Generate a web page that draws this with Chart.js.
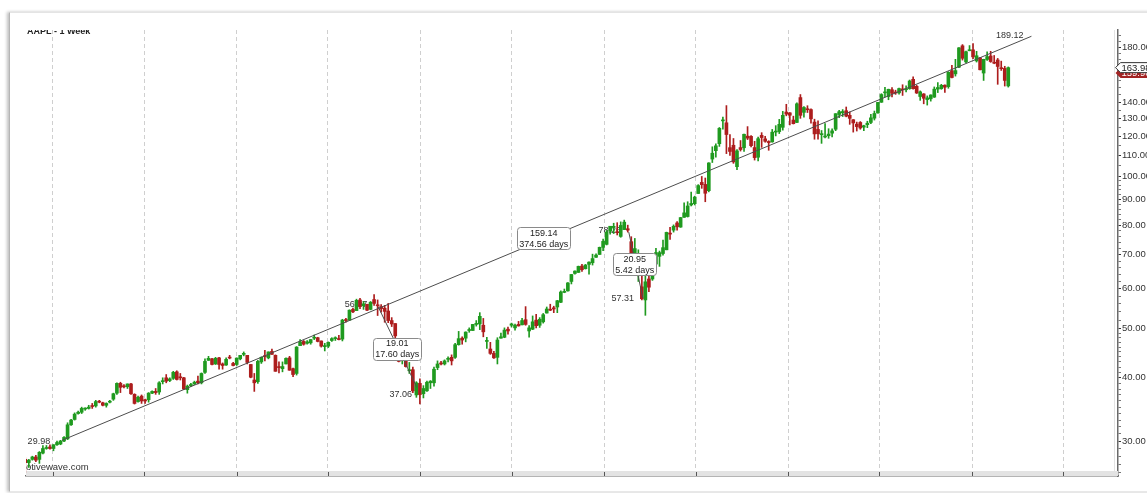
<!DOCTYPE html>
<html>
<head>
<meta charset="utf-8">
<script src="https://cdn.jsdelivr.net/npm/chart.js@4.4.0/dist/chart.umd.min.js"></script>
<style>
  html, body { margin: 0; padding: 0; background: #fff; }
  body { width: 1147px; height: 493px; position: relative; overflow: hidden; }
  #card {
    position: absolute; left: 9px; top: 12px; width: 1150px; height: 478px;
    background: #fff; border-top: 1px solid #e4e4e4; border-bottom: 1px solid #e8e8e8;
    border-left: 1px solid #b5b5b5; box-shadow: -2px 0 3px rgba(0, 0, 0, 0.25);
  }
  #wrap { position: absolute; left: 0; top: 0; width: 1147px; height: 493px; }
</style>
</head>
<body>
<div id="card"></div>
<div id="wrap"><canvas id="chart"></canvas></div>
<script>
// AAPL weekly candles, first week starting 2016-11-07, one row per calendar year
const firstWeek = "2016-11-07";

const opens = [
  27.6, 27.2, 27.6, 27.9, 27.6, 28.4, 29.0, 29.2,
  29.0, 29.5, 29.6, 30.0, 30.3, 32.3, 33.1, 34.0, 34.2, 34.7, 34.8, 35.2, 35.2, 35.9, 35.7, 35.3, 35.8, 36.3, 37.3, 39.0, 38.5, 38.4, 38.9, 37.1, 35.9, 36.8, 36.2, 36.2, 37.3, 37.6, 37.5, 39.3, 40.0, 39.5, 39.9, 41.1, 40.1, 40.0, 37.9, 38.6, 38.9, 39.4, 39.1, 41.0, 43.3, 43.6, 42.6, 43.8, 42.6, 42.4, 43.8, 42.7,
  42.5, 43.6, 44.5, 44.3, 42.5, 39.6, 39.3, 43.0, 44.1, 43.8, 45.1, 44.3, 42.0, 41.7, 42.6, 43.8, 41.7, 40.8, 46.3, 47.2, 46.8, 46.9, 47.9, 48.0, 47.3, 46.1, 46.2, 47.4, 47.8, 47.7, 47.7, 52.0, 52.0, 54.6, 54.3, 57.0, 55.5, 55.9, 54.6, 57.1, 55.6, 55.3, 54.9, 54.2, 51.9, 51.2, 47.5, 43.6, 46.1, 41.3, 41.5, 37.0,
  39.0, 37.2, 37.7, 39.1, 39.1, 41.9, 42.8, 42.6, 43.5, 43.9, 43.9, 46.5, 47.9, 47.9, 49.6, 49.6, 51.0, 51.1, 50.8, 47.2, 45.6, 44.7, 43.9, 47.9, 48.1, 49.9, 50.8, 50.2, 51.0, 50.9, 52.1, 49.5, 49.9, 52.0, 50.8, 51.6, 53.7, 54.6, 55.0, 55.2, 56.4, 59.0, 59.4, 62.0, 64.3, 64.6, 66.5, 65.7, 67.0, 67.5, 69.2, 70.1,
  72.4, 73.4, 77.9, 79.3, 77.5, 76.1, 78.5, 78.8, 74.3, 70.6, 65.9, 60.5, 57.0, 62.7, 62.7, 67.1, 69.5, 70.4, 71.6, 77.0, 78.3, 80.9, 79.4, 83.0, 83.3, 87.8, 88.3, 92.5, 97.3, 96.4, 93.7, 108.2, 112.4, 116.0, 128.7, 127.6, 113.95, 115.2, 104.5, 114.0, 113.9, 120.1, 119.96, 114.0, 109.1, 120.5, 118.6, 117.2, 116.97, 122.3, 122.6, 125.0, 133.99,
  133.5, 129.2, 127.8, 143.1, 133.8, 136.0, 135.5, 128.0, 123.8, 120.9, 119.6, 120.3, 121.7, 123.9, 132.5, 133.5, 134.8, 132.0, 129.4, 126.8, 127.8, 125.1, 126.5, 127.8, 130.3, 133.4, 140.1, 146.2, 143.75, 148.3, 146.4, 146.2, 148.5, 148.3, 149.0, 155.5, 150.6, 143.8, 145.5, 141.8, 142.3, 143.4, 148.7, 148.99, 151.4, 150.4, 161.7, 159.4, 164.3, 181.1, 168.3, 177.1,
  177.8, 169.1, 171.5, 160.0, 170.2, 172.9, 168.0, 169.8, 163.9, 163.4, 150.9
];
const highs = [
  27.8, 27.6, 28.0, 28.1, 28.6, 29.4, 29.4, 29.5,
  29.5, 30.0, 30.1, 30.6, 32.6, 33.1, 34.1, 34.4, 35.0, 34.9, 35.3, 35.6, 36.1, 36.1, 35.8, 35.7, 36.1, 37.3, 39.1, 39.2, 38.8, 38.9, 39.0, 37.2, 36.8, 37.0, 36.3, 37.4, 37.7, 38.1, 39.3, 40.0, 40.6, 40.0, 41.2, 41.3, 40.8, 40.1, 38.7, 39.0, 39.4, 40.3, 40.9, 43.6, 44.1, 43.7, 43.9, 43.9, 42.8, 43.8, 44.3, 42.9,
  43.8, 44.3, 45.0, 44.3, 42.5, 40.8, 43.3, 44.0, 45.3, 45.0, 45.6, 44.4, 43.0, 43.0, 43.8, 44.1, 41.8, 46.1, 47.6, 47.4, 47.4, 47.6, 48.6, 48.1, 47.3, 46.8, 47.1, 48.0, 48.2, 48.5, 52.2, 52.4, 54.5, 54.9, 57.2, 57.4, 56.6, 55.9, 56.6, 58.4, 57.0, 55.8, 55.6, 56.1, 52.6, 51.2, 47.7, 45.1, 46.2, 42.9, 42.0, 39.3,
  39.8, 38.6, 39.4, 39.5, 42.0, 43.2, 43.1, 43.4, 44.0, 44.4, 46.8, 49.4, 48.2, 49.3, 50.2, 51.0, 51.9, 53.8, 52.4, 48.1, 47.0, 45.1, 48.0, 49.0, 50.2, 50.4, 51.3, 51.1, 51.7, 52.4, 55.3, 50.7, 53.0, 53.4, 52.6, 53.6, 55.2, 55.9, 55.4, 56.9, 59.4, 59.9, 61.7, 64.0, 65.1, 66.5, 67.0, 67.0, 67.8, 70.2, 70.3, 72.5,
  75.2, 78.2, 79.7, 80.8, 81.0, 81.3, 81.96, 80.1, 76.0, 75.4, 71.6, 64.8, 64.7, 65.6, 67.9, 72.1, 71.2, 74.8, 77.6, 79.3, 80.2, 81.4, 83.0, 88.7, 89.1, 93.1, 91.4, 96.3, 99.96, 99.25, 106.4, 114.4, 116.0, 124.9, 131.0, 137.98, 121.0, 118.8, 112.9, 117.7, 121.2, 125.4, 120.4, 117.3, 119.6, 121.99, 120.0, 117.6, 123.8, 125.95, 129.6, 134.4, 138.8,
  133.6, 131.5, 139.7, 145.09, 137.4, 137.9, 136.0, 129.7, 128.7, 123.2, 127.2, 124.2, 124.2, 133.0, 135.0, 135.5, 137.1, 134.1, 129.5, 128.0, 128.3, 126.2, 128.5, 132.6, 134.6, 140.1, 145.65, 150.0, 148.7, 149.8, 148.0, 149.4, 151.7, 150.9, 155.0, 157.3, 151.4, 147.5, 145.7, 144.2, 144.9, 150.2, 153.2, 152.0, 151.6, 161.0, 165.7, 170.3, 179.6, 182.1, 176.8, 181.3,
  182.9, 176.6, 171.6, 170.4, 176.2, 176.65, 173.3, 171.0, 168.9, 165.0, 164.5
];
const lows = [
  26.0, 26.6, 27.5, 27.3, 27.1, 28.3, 28.9, 28.9,
  28.7, 29.4, 29.5, 29.9, 30.2, 32.2, 33.0, 33.9, 34.0, 34.5, 34.7, 34.8, 35.0, 35.7, 35.2, 35.0, 35.7, 36.1, 37.1, 37.4, 38.2, 38.1, 37.1, 35.5, 35.8, 35.6, 35.6, 35.8, 37.2, 37.1, 37.1, 38.9, 39.1, 39.3, 39.7, 39.6, 39.6, 37.9, 37.3, 38.4, 38.8, 38.9, 38.9, 40.8, 43.3, 42.4, 42.5, 41.6, 41.6, 42.3, 43.6, 42.2,
  42.3, 43.4, 44.2, 42.6, 40.0, 37.6, 39.0, 42.7, 43.2, 43.6, 44.5, 41.2, 40.9, 41.1, 42.6, 41.4, 40.2, 40.5, 46.3, 46.4, 46.6, 46.6, 47.6, 47.1, 46.0, 45.2, 45.9, 47.2, 47.4, 47.5, 47.3, 51.5, 51.9, 53.8, 54.3, 54.8, 54.6, 54.3, 54.5, 55.6, 53.1, 53.9, 51.5, 51.4, 50.5, 46.9, 43.0, 42.6, 42.0, 40.8, 37.4, 36.6,
  35.5, 36.5, 37.6, 38.1, 38.5, 41.5, 42.4, 42.4, 43.0, 42.4, 43.7, 46.4, 46.6, 47.1, 49.2, 49.6, 50.6, 49.8, 48.2, 45.7, 44.5, 43.7, 42.6, 47.9, 48.0, 48.8, 50.4, 49.7, 50.6, 50.9, 50.8, 48.1, 49.8, 50.2, 50.3, 51.3, 53.7, 54.3, 53.8, 53.8, 56.3, 58.9, 59.3, 61.3, 64.1, 64.6, 64.9, 65.6, 64.1, 66.8, 69.2, 70.1,
  71.3, 73.2, 76.9, 77.1, 76.6, 75.8, 78.5, 77.6, 64.1, 69.4, 62.0, 57.0, 53.15, 59.2, 62.3, 66.4, 66.4, 69.9, 71.6, 75.1, 77.6, 78.3, 79.3, 83.0, 83.1, 87.4, 87.8, 92.5, 94.7, 89.1, 93.2, 106.5, 109.1, 114.6, 123.9, 110.9, 110.0, 106.1, 103.1, 112.2, 112.0, 118.2, 114.3, 107.7, 107.3, 114.1, 116.8, 112.6, 116.8, 120.2, 121.5, 123.4, 131.7,
  126.4, 126.9, 127.6, 130.2, 130.9, 133.7, 127.4, 118.4, 118.4, 116.2, 119.1, 118.9, 119.6, 123.1, 130.6, 131.3, 131.1, 126.7, 122.3, 122.9, 123.9, 123.1, 124.8, 127.1, 129.2, 133.3, 140.0, 143.6, 141.7, 143.6, 145.2, 145.3, 144.5, 146.8, 148.6, 148.7, 145.8, 141.3, 139.1, 138.3, 140.8, 143.2, 146.4, 148.6, 146.5, 149.3, 156.4, 157.8, 164.0, 169.7, 167.5, 177.0,
  170.8, 168.2, 162.3, 154.7, 169.5, 168.0, 166.9, 152.0, 161.9, 150.8, 150.1
];
const closes = [
  27.2, 27.5, 27.9, 27.5, 28.5, 29.0, 29.1, 29.0,
  29.5, 29.8, 30.0, 30.5, 32.3, 33.0, 33.9, 34.2, 34.8, 34.8, 35.0, 35.1, 35.9, 35.8, 35.3, 35.6, 35.9, 37.2, 39.0, 38.3, 38.4, 38.9, 37.2, 35.6, 36.6, 36.0, 36.0, 37.3, 37.6, 37.4, 39.1, 39.4, 39.4, 39.8, 41.0, 39.7, 40.0, 38.0, 38.5, 38.8, 39.2, 39.1, 40.8, 43.1, 43.7, 42.5, 43.7, 42.5, 42.3, 43.5, 43.75, 42.3,
  43.75, 44.3, 44.6, 42.9, 40.1, 39.1, 43.1, 43.9, 44.05, 45.0, 44.5, 41.2, 41.9, 42.1, 43.7, 41.4, 40.6, 46.0, 47.1, 46.6, 47.1, 47.6, 47.93, 47.2, 46.2, 46.3, 47.0, 47.8, 47.9, 47.6, 52.0, 51.9, 54.4, 54.0, 56.9, 55.3, 56.0, 54.4, 56.4, 56.1, 55.5, 54.8, 54.1, 51.9, 51.1, 48.4, 43.1, 44.6, 42.1, 41.4, 37.7, 39.1,
  37.06, 38.1, 39.2, 39.4, 41.6, 42.6, 42.6, 43.2, 43.7, 43.2, 46.5, 47.8, 47.5, 49.25, 49.7, 51.0, 51.1, 52.9, 49.3, 47.25, 44.7, 43.8, 47.5, 48.2, 49.7, 49.5, 51.1, 50.8, 50.65, 51.9, 51.0, 50.2, 51.6, 50.7, 52.2, 53.3, 54.7, 54.4, 54.7, 56.8, 59.1, 59.1, 61.6, 64.0, 65.0, 66.4, 65.4, 66.8, 67.7, 68.8, 69.9, 72.4,
  74.4, 77.6, 79.7, 79.6, 77.4, 80.0, 81.2, 78.3, 68.3, 72.0, 69.5, 57.31, 61.9, 60.4, 67.0, 70.7, 70.7, 72.3, 77.5, 76.9, 79.7, 79.5, 82.9, 84.7, 87.4, 88.4, 91.0, 95.9, 96.3, 92.6, 106.3, 111.1, 114.9, 124.4, 129.0, 120.96, 112.0, 106.8, 112.3, 113.0, 121.1, 119.0, 115.0, 108.9, 118.7, 119.3, 117.3, 116.6, 122.25, 122.4, 126.7, 132.0, 132.7,
  132.05, 127.1, 139.1, 132.0, 136.8, 135.4, 129.9, 121.3, 121.4, 121.0, 120.0, 121.2, 123.0, 133.0, 134.2, 134.3, 131.5, 130.2, 127.5, 125.4, 124.6, 125.9, 127.35, 130.5, 133.1, 140.0, 145.1, 146.4, 148.6, 145.9, 146.1, 149.1, 148.2, 148.6, 154.3, 149.0, 146.1, 146.9, 142.65, 142.9, 144.8, 148.7, 149.8, 151.3, 150.0, 160.55, 156.8, 161.8, 179.45, 171.1, 176.3, 177.6,
  172.2, 173.1, 162.4, 170.3, 172.4, 168.6, 167.3, 164.85, 163.2, 154.7, 163.98
];

// vertical dashed grid: every half year
const gridDates = [
  "2017-01-01", "2017-07-01", "2018-01-01", "2018-07-01", "2019-01-01", "2019-07-01",
  "2020-01-01", "2020-07-01", "2021-01-01", "2021-07-01", "2022-01-01", "2022-07-01"
];
const yMajorTicks = [30, 40, 50, 60, 70, 80, 90, 100, 110, 120, 130, 140, 180];

// wave point labels
const pointLabels = [
  { text: "29.98", date: "2016-12-04", price: 30.0 },
  { text: "56.07", date: "2018-08-26", price: 55.9 },
  { text: "37.06", date: "2018-11-23", price: 37.15 },
  { text: "78.26", date: "2020-01-12", price: 78.3 },
  { text: "57.31", date: "2020-02-07", price: 57.4 },
  { text: "189.12", date: "2022-03-17", price: 189.7 }
];
// drawn lines: [date, price] pairs
const trendLines = [
  [["2017-01-19", 30.1], ["2022-04-29", 189.12]],
  [["2018-10-09", 55.3], ["2018-12-25", 38.3]],
  [["2020-02-19", 77.6], ["2020-03-18", 57.5]]
];
const measureBoxes = [
  { lines: ["159.14", "374.56 days"], date: "2019-09-03", price: 75.5 },
  { lines: ["19.01", "17.60 days"], date: "2018-11-16", price: 45.6 },
  { lines: ["20.95", "5.42 days"], date: "2020-03-02", price: 67.1 }
];
const lastPrice = 163.98;
const markerPrice = 159.96;
const title = "AAPL - 1 Week";
const watermark = "motivewave.com";

const GREEN = "#1f9a1f";
const RED = "#ad1d1d";
const FONT = '"Liberation Sans", Arial, sans-serif';

const dayOf = (s) => (Date.parse(s + "T00:00:00Z") - Date.UTC(2017, 0, 1)) / 86400000;
const weekDays = closes.map((_, i) => dayOf(firstWeek) + 7 * i);
const candleColors = closes.map((c, i) => (c >= opens[i] ? GREEN : RED));

const yMinorTicks = [];
for (let v = 26; v <= 194; ) {
  yMinorTicks.push(v);
  v += v < 50 ? 1 : v < 100 ? 2 : 5;
}

function roundRect(ctx, x, y, w, h, r) {
  ctx.beginPath();
  ctx.moveTo(x + r, y);
  ctx.lineTo(x + w - r, y);
  ctx.quadraticCurveTo(x + w, y, x + w, y + r);
  ctx.lineTo(x + w, y + h - r);
  ctx.quadraticCurveTo(x + w, y + h, x + w - r, y + h);
  ctx.lineTo(x + r, y + h);
  ctx.quadraticCurveTo(x, y + h, x, y + h - r);
  ctx.lineTo(x, y + r);
  ctx.quadraticCurveTo(x, y, x + r, y);
  ctx.closePath();
}

function priceTag(ctx, xLeft, yc, text, fill, stroke, textColor) {
  const h = 10;
  ctx.beginPath();
  ctx.moveTo(xLeft, yc);
  ctx.lineTo(xLeft + 5, yc - h / 2);
  ctx.lineTo(xLeft + 60, yc - h / 2);
  ctx.lineTo(xLeft + 60, yc + h / 2);
  ctx.lineTo(xLeft + 5, yc + h / 2);
  ctx.closePath();
  ctx.fillStyle = fill;
  ctx.fill();
  if (stroke) {
    ctx.strokeStyle = stroke;
    ctx.lineWidth = 1;
    ctx.stroke();
  }
  ctx.fillStyle = textColor;
  ctx.textAlign = "left";
  ctx.textBaseline = "middle";
  ctx.fillText(text, xLeft + 6, yc + 0.5);
}

const overlay = {
  id: "overlay",
  beforeDatasetsDraw(chart) {
    const { ctx, chartArea: a, scales: { x, y } } = chart;
    ctx.save();
    // bottom band and right border
    ctx.fillStyle = "#e3e3e3";
    ctx.fillRect(a.left, a.bottom - 5, a.right - a.left, 5);
    ctx.fillRect(a.right - 4, a.top, 1, a.bottom - a.top);
    ctx.strokeStyle = "#555";
    ctx.lineWidth = 1;
    x.ticks.forEach((t) => {
      const px = Math.round(x.getPixelForValue(t.value)) + 0.5;
      ctx.beginPath();
      ctx.moveTo(px, a.bottom - 4);
      ctx.lineTo(px, a.bottom);
      ctx.stroke();
    });

    ctx.beginPath();
    ctx.rect(a.left, a.top, a.right - a.left, a.bottom - a.top);
    ctx.clip();
    ctx.fillStyle = "#333";
    ctx.font = "9px " + FONT;
    ctx.textAlign = "center";
    ctx.textBaseline = "middle";
    pointLabels.forEach((p) => {
      ctx.fillText(p.text, x.getPixelForValue(dayOf(p.date)), y.getPixelForValue(p.price));
    });
    ctx.textAlign = "left";
    ctx.textBaseline = "alphabetic";
    ctx.font = "9.5px " + FONT;
    ctx.fillText(watermark, a.left - 8, a.bottom - 6.5);
    ctx.font = "bold 9px " + FONT;
    ctx.fillStyle = "#222";
    ctx.fillText(title, a.left + 1, a.top + 3.5);
    ctx.restore();
  },
  afterDatasetsDraw(chart) {
    const { ctx, scales: { x, y } } = chart;
    ctx.save();
    ctx.font = "9px " + FONT;
    measureBoxes.forEach((b) => {
      const cx = x.getPixelForValue(dayOf(b.date));
      const cy = y.getPixelForValue(b.price);
      const w = Math.max(...b.lines.map((t) => ctx.measureText(t).width)) + 4;
      const h = 22;
      roundRect(ctx, Math.round(cx - w / 2) + 0.5, Math.round(cy - h / 2) + 0.5, Math.round(w), h, 3);
      ctx.fillStyle = "#fff";
      ctx.fill();
      ctx.strokeStyle = "#8a8a8a";
      ctx.lineWidth = 1;
      ctx.stroke();
      ctx.fillStyle = "#222";
      ctx.textAlign = "center";
      ctx.textBaseline = "middle";
      ctx.fillText(b.lines[0], cx, cy - 5);
      ctx.fillText(b.lines[1], cx, cy + 6);
    });
    ctx.restore();
  },
  afterDraw(chart) {
    const { ctx, chartArea: a, scales: { y } } = chart;
    ctx.save();
    ctx.font = "9.5px " + FONT;
    priceTag(ctx, a.right - 2.5, y.getPixelForValue(markerPrice), markerPrice.toFixed(2), "#a32424", null, "#fff");
    priceTag(ctx, a.right - 2.5, y.getPixelForValue(lastPrice), lastPrice.toFixed(2), "#fff", "#333", "#222");
    ctx.restore();
  }
};

Chart.defaults.font.family = FONT;

new Chart(document.getElementById("chart"), {
  type: "bar",
  data: {
    datasets: [
      ...trendLines.map((l) => ({
        type: "line",
        data: l.map(([d, p]) => ({ x: dayOf(d), y: p })),
        borderColor: "#4d4d4d",
        borderWidth: 1,
        pointRadius: 0,
        tension: 0,
        order: 0
      })),
      {
        type: "bar",
        data: weekDays.map((d, i) => ({ x: d, y: [opens[i], closes[i]] })),
        backgroundColor: candleColors,
        barThickness: 3,
        minBarLength: 1,
        grouped: false,
        order: 1
      },
      {
        type: "bar",
        data: weekDays.map((d, i) => ({ x: d, y: [lows[i], highs[i]] })),
        backgroundColor: candleColors,
        barThickness: 1,
        grouped: false,
        order: 2
      }
    ]
  },
  options: {
    responsive: true,
    maintainAspectRatio: false,
    animation: false,
    events: [],
    layout: { padding: { left: 26, top: 30, right: 0, bottom: 0 } },
    plugins: { legend: { display: false }, tooltip: { enabled: false } },
    scales: {
      x: {
        type: "linear",
        min: -53.6,
        max: 2116,
        offset: false,
        afterBuildTicks: (s) => {
          s.ticks = gridDates.map((d) => ({ value: dayOf(d) }));
        },
        afterFit: (s) => {
          s.height = 17;
        },
        ticks: { display: false },
        grid: { color: "#cfcfcf", lineWidth: 1, drawTicks: false, offset: false },
        border: { display: true, color: "#6a6a6a", width: 1.5, dash: [4, 3] }
      },
      y: {
        type: "logarithmic",
        position: "right",
        min: 25.59,
        max: 194.6,
        afterBuildTicks: (s) => {
          s.ticks = yMinorTicks.map((v) => ({ value: v }));
        },
        afterFit: (s) => {
          s.width = 29;
        },
        ticks: {
          autoSkip: false,
          padding: 1,
          color: "#333",
          font: { size: 9.5 },
          callback: (v) => (yMajorTicks.includes(v) ? v.toFixed(2) : "")
        },
        grid: {
          drawOnChartArea: false,
          drawTicks: true,
          tickLength: 3,
          tickWidth: 1,
          tickColor: (c) => (c.tick && yMajorTicks.includes(c.tick.value) ? "#333" : "#777")
        },
        border: { display: true, color: "#6a6a6a", width: 1.5 }
      }
    }
  },
  plugins: [overlay]
});
</script>
</body>
</html>
